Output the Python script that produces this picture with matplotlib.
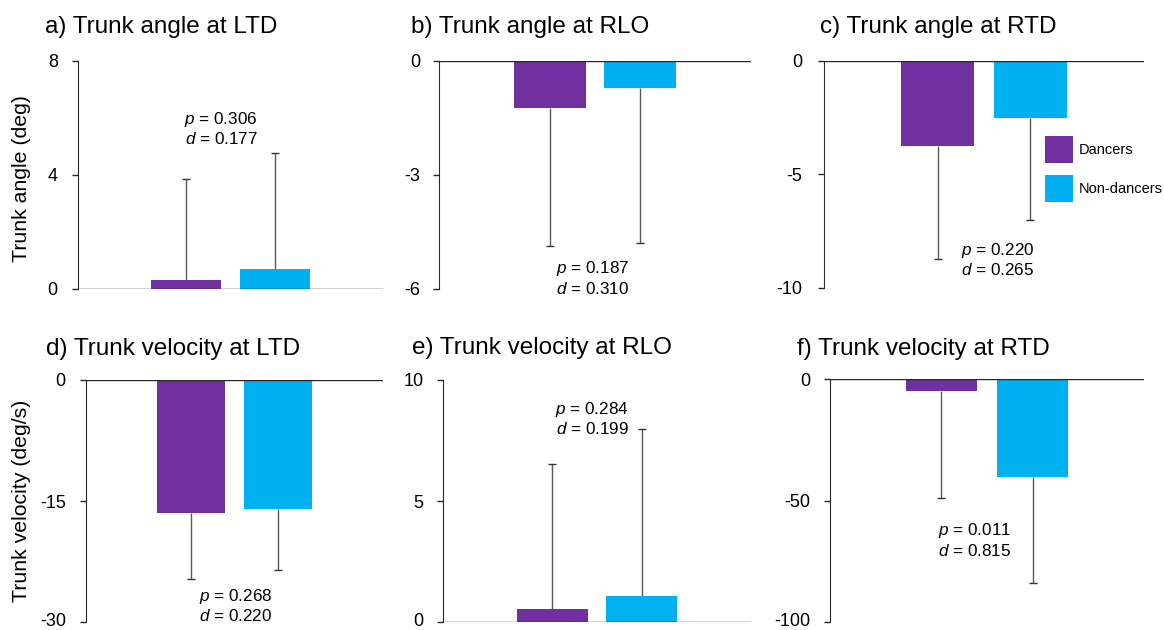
import matplotlib
matplotlib.use("Agg")

import matplotlib.pyplot as plt
import matplotlib.patches as mpatches
import matplotlib.transforms as mtransforms
import numpy as np

plt.rcParams["font.family"] = ["Liberation Sans", "DejaVu Sans"]
plt.rcParams["mathtext.fontset"] = "custom"
plt.rcParams["mathtext.rm"] = "Liberation Sans"
plt.rcParams["mathtext.it"] = "Liberation Sans:italic"
plt.rcParams["axes.unicode_minus"] = False

# ---------------------------------------------------------------------------
# Data
# ---------------------------------------------------------------------------
groups = ["Dancers", "Non-dancers"]
titles = [
    "a) Trunk angle at LTD", "b) Trunk angle at RLO", "c) Trunk angle at RTD",
    "d) Trunk velocity at LTD", "e) Trunk velocity at RLO", "f) Trunk velocity at RTD",
]
row_labels = ["Trunk angle (deg)", "Trunk velocity (deg/s)"]

angle_ltd_mean = [0.32, 0.70]
angle_ltd_sd = [3.55, 4.07]
angle_rlo_mean = [-1.23, -0.70]
angle_rlo_sd = [3.63, 4.08]
angle_rtd_mean = [-3.74, -2.50]
angle_rtd_sd = [4.98, 4.50]
vel_ltd_mean = [-16.5, -16.0]
vel_ltd_sd = [8.2, 7.5]
vel_rlo_mean = [0.54, 1.07]
vel_rlo_sd = [6.0, 6.9]
vel_rtd_mean = [-5.1, -40.3]
vel_rtd_sd = [43.8, 43.7]

p_values = ["0.306", "0.187", "0.220", "0.268", "0.284", "0.011"]
d_values = ["0.177", "0.310", "0.265", "0.220", "0.199", "0.815"]

y_ranges = [(0, 8), (-6, 0), (-10, 0), (-30, 0), (0, 10), (-100, 0)]
y_ticks = [[0, 4, 8], [-6, -3, 0], [-10, -5, 0], [-30, -15, 0], [0, 5, 10], [-100, -50, 0]]

# ---------------------------------------------------------------------------
# Layout (pixels in a 1164 x 630 canvas)
# ---------------------------------------------------------------------------
W, H = 1164, 630
BOXES = [  # left, right, top, bottom
    (78, 383, 61, 289), (439, 751, 61, 289), (824, 1144, 61, 288),
    (86, 383, 380, 622), (443, 751, 380, 622), (830, 1144, 379, 622),
]
TITLE_POS = [(45, 33), (411, 33), (820, 33), (46, 355), (412, 354), (797, 355)]
STAT_POS = [(0.469, 0.704), (0.492, 0.048), (0.544, 0.126),
            (0.503, 0.068), (0.484, 0.841), (0.460, 0.337)]
TICK_PAD = [10.5, 9.5, 11.5, 10.5, 10.0, 10.0]

COLORS = ["#7030A0", "#00B0F0"]
ERR_COLOR = "#595959"
AXIS_COLOR = "#262626"

means = [angle_ltd_mean, angle_rlo_mean, angle_rtd_mean,
         vel_ltd_mean, vel_rlo_mean, vel_rtd_mean]
sds = [angle_ltd_sd, angle_rlo_sd, angle_rtd_sd,
       vel_ltd_sd, vel_rlo_sd, vel_rtd_sd]

fig = plt.figure(figsize=(W / 100, H / 100), dpi=100)
x = np.arange(len(groups))
lift = mtransforms.ScaledTranslation(0, 3 / 100, fig.dpi_scale_trans)

for i in range(6):
    l, r, t, b = BOXES[i]
    ax = fig.add_axes([l / W, 1 - b / H, (r - l) / W, (b - t) / H])
    m = np.array(means[i])
    s = np.array(sds[i])
    ends = m + np.sign(m) * s

    # one-sided error bars pointing away from zero
    ax.vlines(x, m, ends, color=ERR_COLOR, lw=1.0, zorder=1)
    ax.plot(x, ends, ls="none", marker="_", ms=6, mew=1.0, color="#333333", zorder=1)
    ax.bar(x, m, width=0.79, color=COLORS, zorder=2)
    ax.axhline(0, color=AXIS_COLOR, lw=1.0, zorder=3)

    ax.set_xlim(-1.225, 2.225)
    ax.set_ylim(*y_ranges[i])
    ax.set_yticks(y_ticks[i])
    ax.set_xticks([])
    for side in ("top", "right", "bottom"):
        ax.spines[side].set_visible(False)
    ax.spines["left"].set_color(AXIS_COLOR)
    ax.tick_params(axis="y", length=4, width=1, color=AXIS_COLOR,
                   labelsize=13, pad=TICK_PAD[i], labelcolor="black")
    ax.patch.set_alpha(0)

    # keep the lowest label of the bottom row inside the canvas
    if i >= 3:
        lab = ax.yaxis.get_major_ticks()[0].label1
        lab.set_transform(lab.get_transform() + lift)

    sx, sy = STAT_POS[i]
    ax.text(sx, sy, f"$p$ = {p_values[i]}\n$d$ = {d_values[i]}",
            transform=ax.transAxes, ha="center", va="center",
            fontsize=12.3, linespacing=1.2)

    tx, ty = TITLE_POS[i]
    fig.text(tx / W, 1 - ty / H, titles[i], fontsize=17.5, va="baseline", ha="left")

    if i == 2:
        handles = [mpatches.Patch(facecolor=c, label=g) for c, g in zip(COLORS, groups)]
        fig.legend(handles=handles, loc="upper left",
                   bbox_to_anchor=(1045 / W, 1 - 136 / H), frameon=False,
                   fontsize=10.5, handlelength=1.9, handleheight=2.47,
                   handletextpad=0.4, labelspacing=0.8, borderpad=0,
                   borderaxespad=0)

fig.text(22 / W, 1 - 178 / H, row_labels[0], rotation=90, fontsize=15.3,
         ha="center", va="center")
fig.text(22 / W, 1 - 501 / H, row_labels[1], rotation=90, fontsize=15.3,
         ha="center", va="center")

fig.savefig("out.png", dpi=100, facecolor="white")
